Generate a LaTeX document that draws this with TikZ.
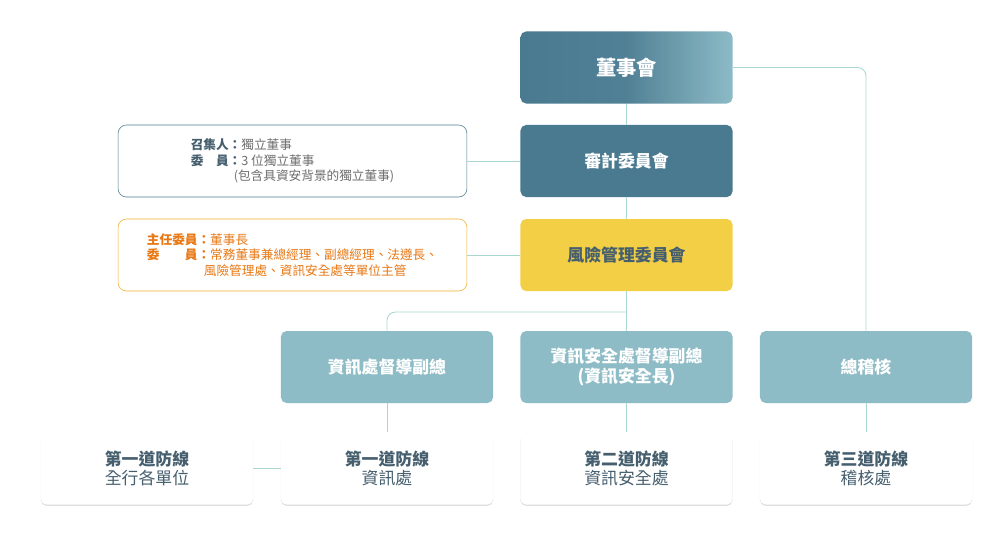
\documentclass[tikz,border=0pt]{standalone}
\usepackage{fontspec}
\setmainfont{Noto Sans CJK TC}
\usetikzlibrary{positioning,shadows}
\definecolor{board_dark}{RGB}{74,122,144}
\definecolor{board_light}{RGB}{140,186,198}
\definecolor{node_teal}{RGB}{141,188,198}
\definecolor{node_yellow}{RGB}{243,207,69}
\definecolor{edge_teal}{RGB}{168,216,208}
\definecolor{text_dark}{RGB}{70,95,110}
\definecolor{text_gray}{RGB}{110,110,110}
\definecolor{line_orange}{RGB}{240,176,48}
\definecolor{text_orange}{RGB}{232,120,20}
\begin{document}
\begin{tikzpicture}[x=0.025cm,y=-0.025cm]
    \tikzstyle{box}=[rounded corners=4pt, minimum width=5.3cm, minimum height=1.8cm, align=center, font=\large\bfseries, text=white]
    \tikzstyle{dark}=[style=box, fill=board_dark]
    \tikzstyle{mid}=[style=box, fill=node_teal]
    \tikzstyle{risk}=[style=box, fill=node_yellow, text=text_dark]
    \tikzstyle{line}=[style=box, fill=white, text=text_dark, font=\large, drop shadow={opacity=0.25, shadow xshift=0pt, shadow yshift=-1pt}]
    \tikzstyle{info}=[rounded corners=6pt, minimum width=8.72cm, minimum height=1.8cm, align=left, font=\small, fill=white]
    \tikzstyle{wire}=[draw=edge_teal, semithick, rounded corners=6pt]

    \useasboundingbox (0,0) rectangle (1004,535);
    \fill[white] (0,0) rectangle (1004,535);

    \node[box, left color=board_dark, right color=board_light, middle color=board_dark!90!board_light] (board) at (626.5,67.5) {\Large 董事會};
    \node[dark] (audit) at (626.5,161) {審計委員會};
    \node[risk] (risk)  at (626.5,255) {風險管理委員會};
    \node[mid] (itvp)  at (387,367) {資訊處督導副總};
    \node[mid] (ciso)  at (626.5,367) {資訊安全處督導副總\\(資訊安全長)};
    \node[mid] (chief) at (866,367) {總稽核};
    \node[line] (l1a) at (147,468.5) {\textbf{第一道防線}\\全行各單位};
    \node[line] (l1b) at (387,468.5) {\textbf{第一道防線}\\資訊處};
    \node[line] (l2)  at (626.5,468.5) {\textbf{第二道防線}\\資訊安全處};
    \node[line] (l3)  at (866,468.5) {\textbf{第三道防線}\\稽核處};

    \node[info, draw=board_dark, text=text_gray] (auditinfo) at (292.5,161)
      {\textcolor{text_dark}{\bfseries 召集人：}獨立董事\\
       \textcolor{text_dark}{\bfseries 委\hspace{1em}員：}3 位獨立董事\\
       \hspace{3.4em}(包含具資安背景的獨立董事)};
    \node[info, draw=line_orange, text=text_orange] (riskinfo) at (292.5,255)
      {{\bfseries 主任委員：}董事長\\
       {\bfseries 委\hspace{2em}員：}常務董事兼總經理、副總經理、法遵長、\\
       \hspace{4.5em}風險管理處、資訊安全處等單位主管};

    \coordinate (split) at (626.5,312);
    \draw[wire] (board) -- (audit);
    \draw[wire] (audit) -- (risk);
    \draw[wire] (risk) -- (ciso);
    \draw[wire] (split) -| (itvp);
    \draw[wire] (board.east) -| (chief);
    \draw[wire] (auditinfo) -- (audit);
    \draw[wire] (riskinfo) -- (risk);
    \draw[wire] (itvp) -- (l1b);
    \draw[wire] (ciso) -- (l2);
    \draw[wire] (chief) -- (l3);
    \draw[wire] (l1a) -- (l1b);
\end{tikzpicture}
\end{document}
